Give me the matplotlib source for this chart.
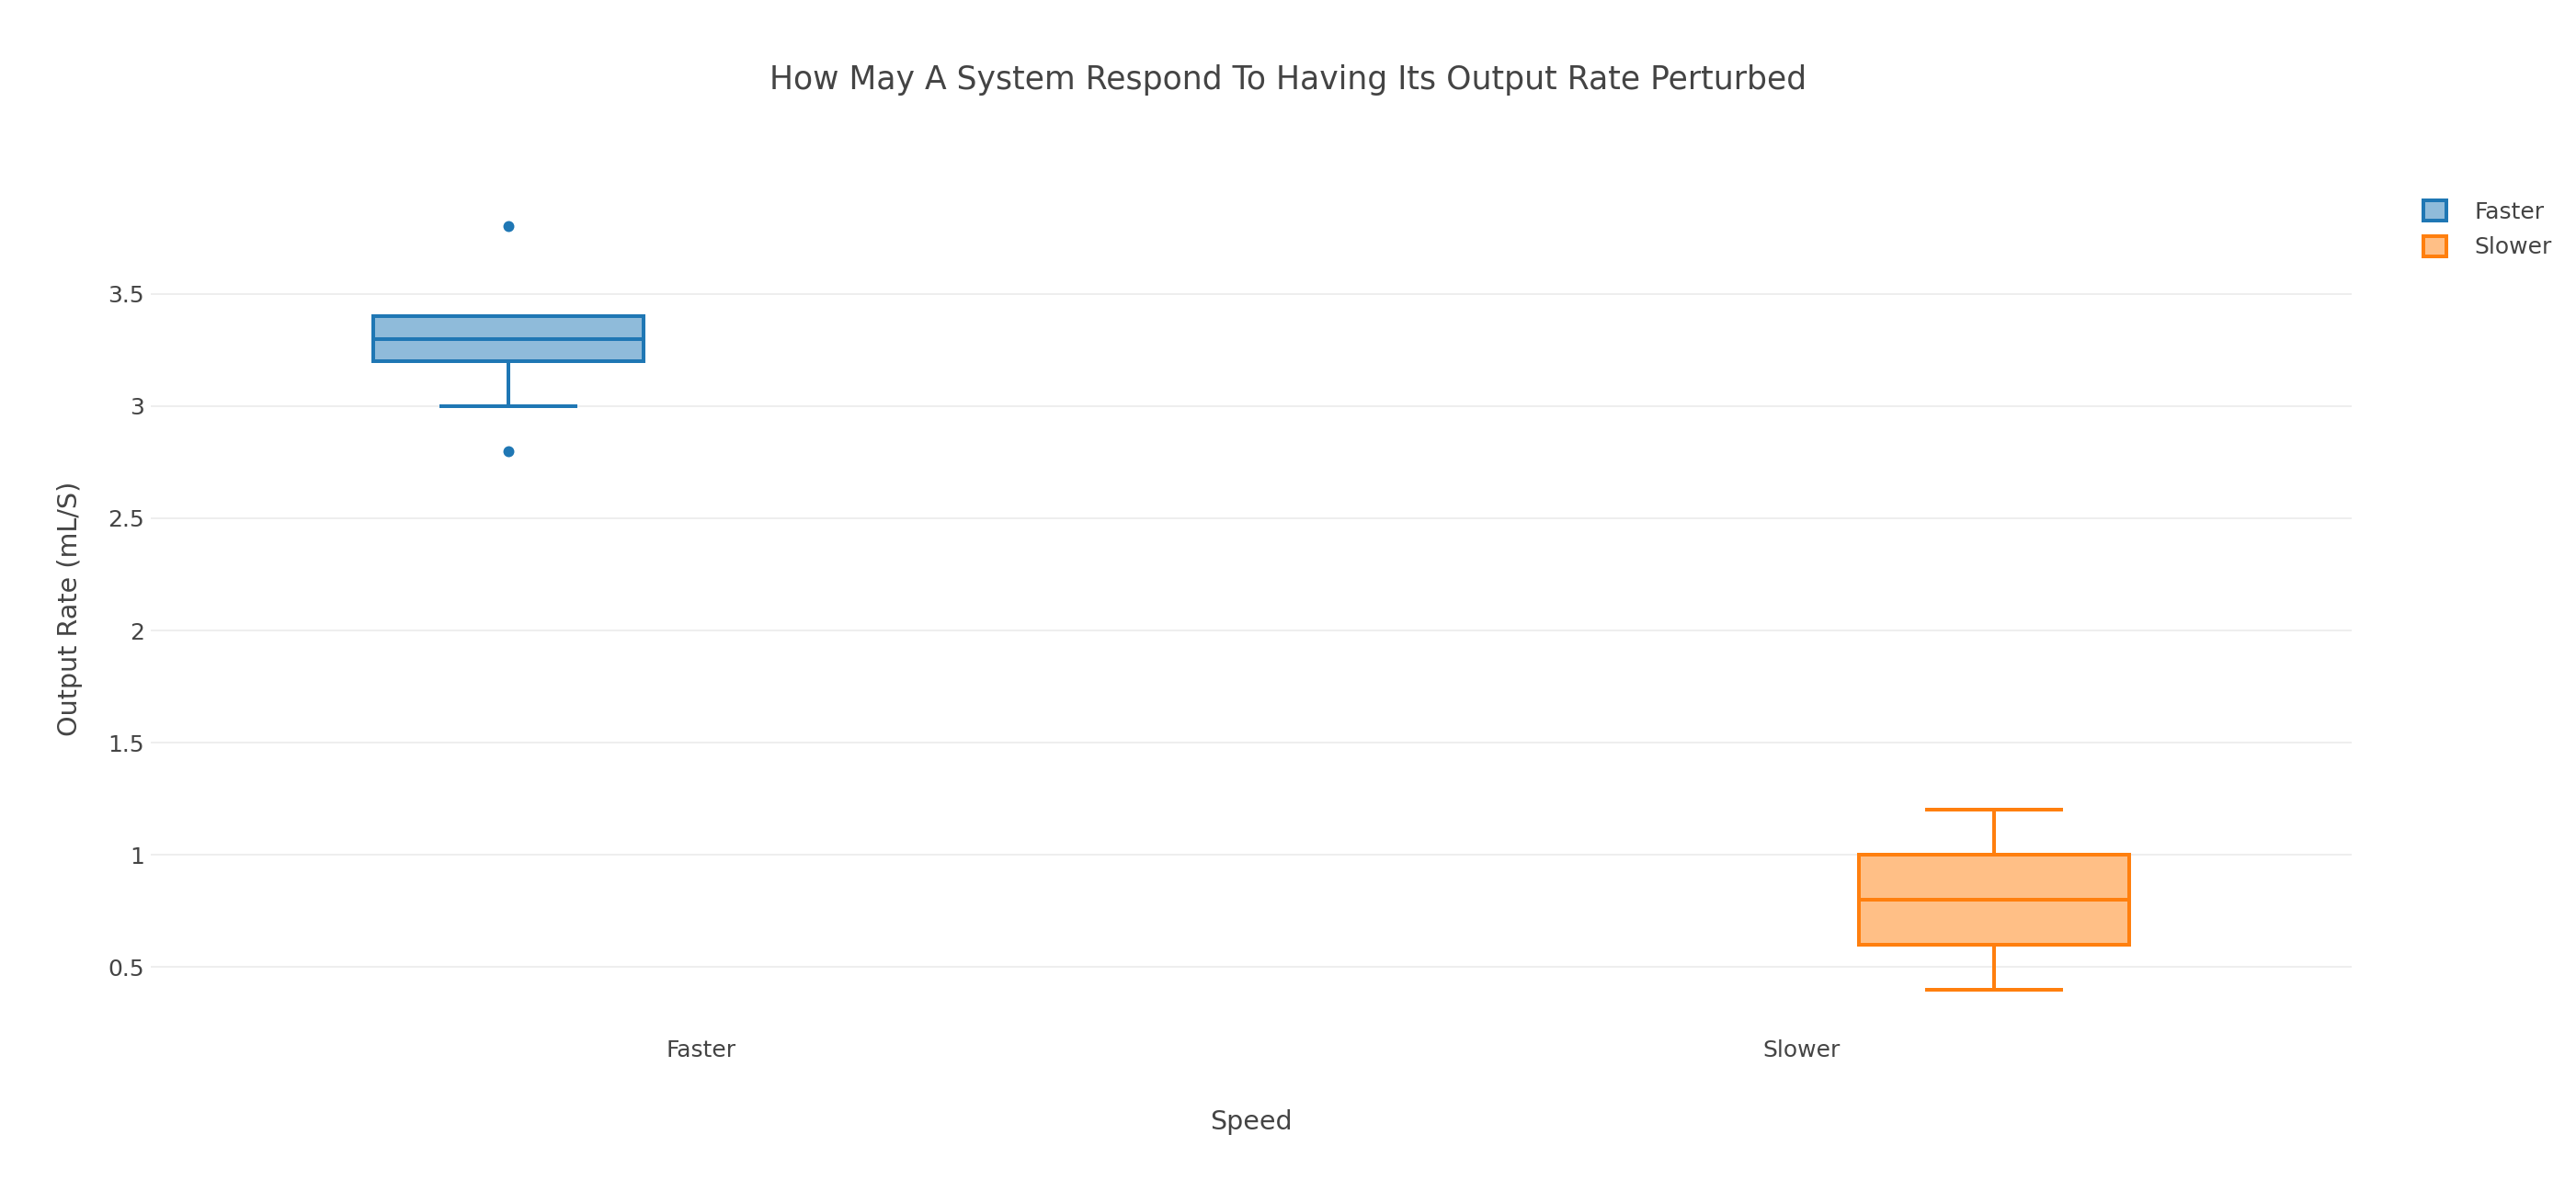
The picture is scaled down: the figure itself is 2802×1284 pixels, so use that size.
import matplotlib
matplotlib.use("Agg")
import matplotlib.pyplot as plt
from matplotlib.patches import Patch

plt.rcParams['font.family'] = ['DejaVu Sans']

# ---- data ----
categories = ["Faster", "Slower"]
series_names = ["Faster", "Slower"]
whislo = [3.0, 0.4]
q1 = [3.2, 0.6]
med = [3.3, 0.8]
q3 = [3.4, 1.0]
whishi = [3.4, 1.2]
fliers = [[3.8, 2.8], []]
colors = ["#1f77b4", "#ff7f0e"]
fills = ["#8fbbda", "#ffbf86"]
yticks = [0.5, 1, 1.5, 2, 2.5, 3, 3.5]
ytick_labels = ["0.5", "1", "1.5", "2", "2.5", "3", "3.5"]

W, H = 2802, 1284
fig = plt.figure(figsize=(W / 100, H / 100), dpi=100)
left, right, top, bottom = 164, 2558, 200, 1124
ax = fig.add_axes([left / W, 1 - bottom / H, (right - left) / W, (bottom - top) / H])

TXT = "#444444"
lw = 2.88
box_w = 0.245
offset = 0.175

for i, name in enumerate(series_names):
    stats = [dict(med=med[i], q1=q1[i], q3=q3[i], whislo=whislo[i],
                  whishi=whishi[i], fliers=fliers[i], label=name)]
    pos = i + (-offset if i == 0 else offset)
    c = colors[i]
    ax.bxp(stats, positions=[pos], widths=[box_w], capwidths=[box_w / 2],
           patch_artist=True, manage_ticks=False,
           boxprops=dict(facecolor=fills[i], edgecolor=c, linewidth=lw),
           medianprops=dict(color=c, linewidth=lw),
           whiskerprops=dict(color=c, linewidth=lw),
           capprops=dict(color=c, linewidth=lw),
           flierprops=dict(marker='o', markerfacecolor=c, markeredgecolor=c,
                           markeredgewidth=0, markersize=8.6, linestyle='none'),
           zorder=3)

ax.set_xlim(-0.5, 1.5)
ax.set_ylim(0.207, 3.99)
ax.set_xticks([0, 1])
ax.set_xticklabels(categories)
ax.set_yticks(yticks)
ax.set_yticklabels(ytick_labels)
ax.tick_params(axis='both', length=0, labelsize=18, colors=TXT)
ax.tick_params(axis='x', pad=5)
ax.tick_params(axis='y', pad=5)
ax.grid(axis='y', color='#eeeeee', linewidth=1.44, zorder=0)
ax.set_axisbelow(True)
for s in ax.spines.values():
    s.set_visible(False)

fig.text(0.5, 1 - 87 / H,
         "How May A System Respond To Having Its Output Rate Perturbed",
         ha='center', va='center', fontsize=24.9, color=TXT)
fig.text((left + right) / 2 / W, 1 - 1221 / H, "Speed", ha='center', va='center',
         fontsize=20.5, color=TXT)
fig.text(76 / W, 1 - ((top + bottom) / 2) / H, "Output Rate (mL/S)", ha='center',
         va='center', rotation=90, fontsize=20.6, color=TXT)

handles = [Patch(facecolor=fills[i], edgecolor=colors[i], linewidth=lw, label=series_names[i])
           for i in range(2)]
fig.legend(handles=handles, loc='upper left', bbox_to_anchor=(2636 / W, 1 - 218 / H),
           frameon=False, fontsize=18, handlelength=1.0, handleheight=1.0,
           handletextpad=1.2, labelspacing=0.55, borderpad=0, borderaxespad=0,
           labelcolor=TXT)

fig.savefig("out.png", dpi=100, facecolor='white')
